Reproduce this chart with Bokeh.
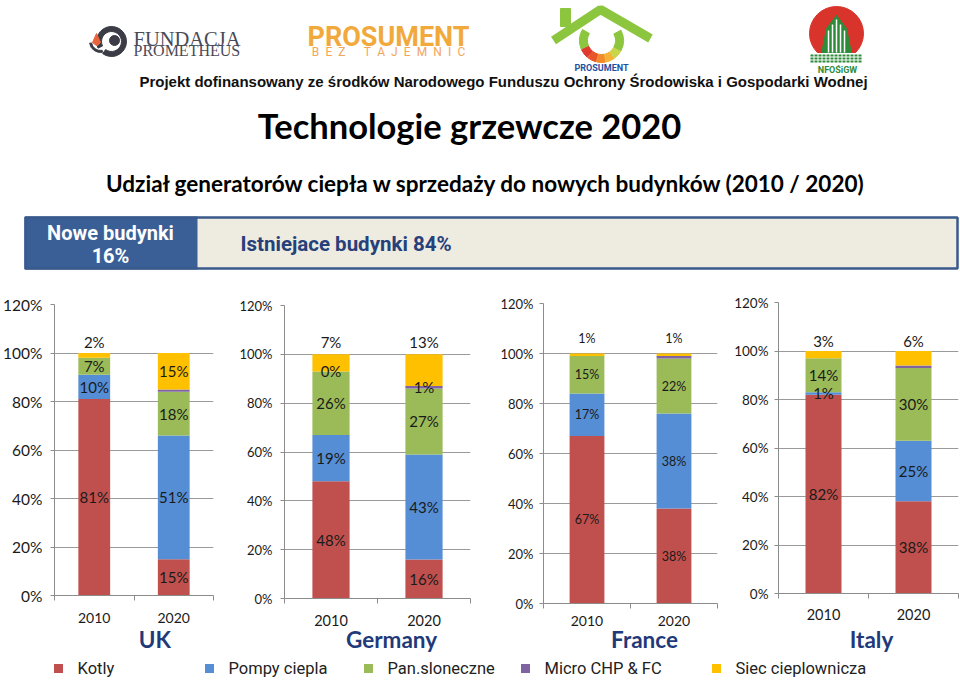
from bokeh.plotting import figure
from bokeh.layouts import column, row
from bokeh.models import Range1d, FixedTicker, ColumnDataSource, LinearAxis, PrintfTickFormatter
from bokeh.core.properties import value
from bokeh.embed import file_html
from bokeh.resources import INLINE

# ---------------- data ----------------
countries = ["UK", "Germany", "France", "Italy"]
years = ["2010", "2020"]
series = ["Kotly", "Pompy ciepla", "Pan.sloneczne", "Micro CHP & FC", "Siec cieplownicza"]
colors = ["#c0504d", "#558ed5", "#9bbb59", "#8064a2", "#ffc000"]

# values per country: [2010, 2020]
kotly = [[81, 15], [48, 16], [67, 38], [82, 38]]
pompy = [[10, 51], [19, 43], [17, 38], [1, 25]]
pan_slon = [[7, 18], [26, 27], [15, 22], [14, 30]]
micro_chp = [[0, 1], [0, 1], [0, 1], [0, 1]]
siec = [[2, 15], [7, 13], [1, 1], [3, 6]]
series_values = [kotly, pompy, pan_slon, micro_chp, siec]

y_ticks = [0, 20, 40, 60, 80, 100, 120]

# label display choices (style)
micro_labeled = [False, True, False, False]
siec_label_above = [[True, False], [True, True], [True, True], [True, True]]

title = "Technologie grzewcze 2020"
subtitle = "Udział generatorów ciepła w sprzedaży do nowych budynków (2010 / 2020)"
project_text = "Projekt dofinansowany ze środków Narodowego Funduszu Ochrony Środowiska i Gospodarki Wodnej"
banner_left = ["Nowe budynki", "16%"]
banner_right = "Istniejace budynki 84%"

# ---------------- layout / style ----------------
W = 960
HEADER_H = 288
CHART_H = 367
FOOTER_H = 26
FONT = "Lato"
NAVY = "#1f3a7a"
AXIS_C = "#8c8c8c"

chart_cfg = [
    dict(width=232, left=53, right=19, top=16, bottom=60, tick_fs="15.5px", y_stand=8, x_fs="14px",
         lab_fs="15px", x_stand=12, name_dx=21, name_stand=0, above=104.5),
    dict(width=258, left=52, right=20, top=17, bottom=56, tick_fs="13px", y_stand=8, x_fs="14.5px",
         lab_fs="15px", x_stand=11, name_dx=14, name_stand=-3, above=105),
    dict(width=238, left=53, right=11, top=15, bottom=52, tick_fs="13px", y_stand=6, x_fs="14px",
         lab_fs="12.5px", x_stand=7, name_dx=14, name_stand=-3, above=106),
    dict(width=232, left=50, right=2, top=14, bottom=61, tick_fs="13.5px", y_stand=6, x_fs="14.5px",
         lab_fs="15px", x_stand=10, name_dx=3, name_stand=3, above=104),
]


def text(p, x, y, t, size, color="#000000", font=FONT, style="normal", align="center", baseline="middle"):
    p.text(x=[x], y=[y], text=[t], text_font=value(font), text_font_size=size, text_color=color,
           text_font_style=style, text_align=align, text_baseline=baseline)


# ---------------- header ----------------
hdr = figure(width=W, height=HEADER_H, x_range=Range1d(0, W), y_range=Range1d(-HEADER_H, 0),
             output_backend="svg", toolbar_location=None, x_axis_type=None, y_axis_type=None,
             min_border=0)
hdr.grid.visible = False
hdr.outline_line_color = None

# logo 1: Fundacja Prometheus
hdr.annular_wedge(x=[111], y=[-41], inner_radius=10, outer_radius=15, start_angle=-2.2, end_angle=3.6,
                  color="#3c3c46")
hdr.circle(x=[114], y=[-40], radius=5, color="#3c3c46")
hdr.patch(x=[92, 96, 100, 97, 96], y=[-42, -33, -42, -45, -45], color="#e8643c")
hdr.annular_wedge(x=[100], y=[-41], inner_radius=9, outer_radius=11, start_angle=3.3, end_angle=4.9,
                  color="#3c3c46")
text(hdr, 133, -38, "FUNDACJA", "20.5px", "#4a4a58", font="Liberation Serif", align="left")
text(hdr, 133, -50, "PROMETHEUS", "16px", "#4a4a58", font="Liberation Serif", align="left")

# logo 2: Prosument bez tajemnic
SP = "\u2002"
text(hdr, 388, -36, "PROSUMENT", "27px", "#f2a93b", font="Roboto", style="bold")
text(hdr, 388, -51, SP.join("BEZ") + SP * 3 + SP.join("TAJEMNIC"), "12px", "#f3a55a", font="Roboto")

# logo 3: house
GREEN = "#8cc63f"
hdr.line(x=[553, 600, 650], y=[-40, -9, -38], line_width=9, color=GREEN)
hdr.quad(left=[560], right=[570], top=[-8], bottom=[-26], color=GREEN)
seg_cols = [GREEN, "#e03a2e", "#e8552b", "#f08a2a", "#f5b335", "#cbd54a", GREEN]
seg_a = [150, 205, 232, 257, 282, 307, 332, 390]
for i, c in enumerate(seg_cols):
    hdr.annular_wedge(x=[601], y=[-40], inner_radius=14, outer_radius=22,
                      start_angle=seg_a[i], end_angle=seg_a[i + 1] - 2, start_angle_units="deg",
                      end_angle_units="deg", color=c)
text(hdr, 601, -67, "PROSUMENT", "9px", "#1e4fa0", font="Roboto", style="bold")

# logo 4: NFOSiGW
hdr.circle(x=[836], y=[-33], radius=27, color="#d9342b")
hdr.patch(x=[821, 826, 836, 846, 851], y=[-53, -28, -15, -28, -53], color="#2e8b3a")
hdr.multi_line(xs=[[828, 828], [832, 832], [836, 836], [840, 840], [844, 844]],
               ys=[[-52, -30], [-52, -24], [-52, -19], [-52, -24], [-52, -30]], color="white", line_width=1.5)
hdr.quad(left=[806], right=[866], top=[-53], bottom=[-63], color="white")
hdr.multi_line(xs=[[810, 862]] * 3, ys=[[-55, -55], [-58, -58], [-61, -61]], color="#2e8b3a",
               line_width=2, line_dash="3 1")
text(hdr, 837, -69, "NFOŚiGW", "9px", "#2e8b3a", font="Roboto", style="bold")

text(hdr, 503, -81, project_text, "15px", "#111111", font="Liberation Sans", style="bold")

# titles
text(hdr, 469, -125, title, "34.5px", "#000000", style="bold")
text(hdr, 486, -183, subtitle, "22.5px", "#000000", style="bold")

# banner
hdr.quad(left=[25], right=[957], top=[-217], bottom=[-268], fill_color="#eeebe1", line_color=None)
hdr.quad(left=[24], right=[197], top=[-216], bottom=[-269], fill_color="#3a5e96", line_color=None)
hdr.quad(left=[25], right=[957], top=[-217], bottom=[-268], fill_color=None, line_color="#3a5a8c",
         line_width=2.5)
text(hdr, 110, -232, banner_left[0], "20px", "#ffffff", font="Roboto", style="bold")
text(hdr, 110, -255, banner_left[1], "20px", "#ffffff", font="Roboto", style="bold")
text(hdr, 240, -243, banner_right, "20.5px", "#26407a", font="Roboto", style="bold", align="left")


# ---------------- charts ----------------
def make_chart(ci):
    cfg = chart_cfg[ci]
    xs = [i + 0.5 for i in range(len(years))]
    data = {"x": xs}
    for s, arr in zip(series, series_values):
        data[s] = arr[ci]
    src = ColumnDataSource(data)

    p = figure(width=cfg["width"], height=CHART_H, x_range=Range1d(0, len(years)), y_range=Range1d(0, 120),
               output_backend="svg", toolbar_location=None,
               min_border_left=cfg["left"], min_border_right=cfg["right"],
               min_border_top=cfg["top"], min_border_bottom=cfg["bottom"])
    p.outline_line_color = None
    p.background_fill_color = "white"
    p.border_fill_color = "white"

    p.vbar_stack(series, x="x", width=0.4, fill_color=colors, line_color=None, source=src)

    # value labels
    lx, ly, lt = [], [], []
    for j in range(len(years)):
        base = 0
        for k, arr in enumerate(series_values):
            v = arr[ci][j]
            center = base + v / 2
            base += v
            if k == 3 and not micro_labeled[ci]:
                continue
            y = center
            if k == 4 and siec_label_above[ci][j]:
                y = cfg["above"]
            lx.append(xs[j])
            ly.append(y)
            lt.append(f"{v}%")
    p.text(x=lx, y=ly, text=lt, text_font=value(FONT), text_font_size=cfg["lab_fs"], text_color="#1a1a1a",
           text_align="center", text_baseline="middle")

    # year axis
    xa = p.xaxis[0]
    xa.ticker = FixedTicker(ticks=xs, minor_ticks=[float(i) for i in range(len(years) + 1)])
    xa.major_label_overrides = {x: y for x, y in zip(xs, years)}
    xa.major_tick_line_color = None
    xa.major_tick_out = 0
    xa.minor_tick_line_color = AXIS_C
    xa.minor_tick_out = 5
    xa.minor_tick_in = 0
    xa.axis_line_color = AXIS_C
    xa.major_label_text_font = FONT
    xa.major_label_text_font_size = cfg["x_fs"]
    xa.major_label_text_color = "#1a1a1a"
    xa.major_label_standoff = cfg["x_stand"]

    # country name axis
    frame_w = cfg["width"] - cfg["left"] - cfg["right"]
    cx = round(len(years) / 2 + cfg["name_dx"] * len(years) / frame_w, 4)
    na = LinearAxis(ticker=FixedTicker(ticks=[cx]), major_label_overrides={cx: countries[ci]})
    na.axis_line_color = None
    na.major_tick_line_color = None
    na.minor_tick_line_color = None
    na.major_tick_out = 0
    na.major_label_standoff = cfg["name_stand"]
    na.major_label_text_font = FONT
    na.major_label_text_font_size = "22.5px"
    na.major_label_text_font_style = "bold"
    na.major_label_text_color = NAVY
    p.add_layout(na, "below")

    ya = p.yaxis[0]
    ya.ticker = FixedTicker(ticks=y_ticks)
    ya.formatter = PrintfTickFormatter(format="%d%%")
    ya.major_tick_out = 4
    ya.major_tick_in = 0
    ya.major_tick_line_color = AXIS_C
    ya.minor_tick_line_color = None
    ya.axis_line_color = AXIS_C
    ya.major_label_text_font = FONT
    ya.major_label_text_font_size = cfg["tick_fs"]
    ya.major_label_text_color = "#1a1a1a"
    ya.major_label_standoff = cfg["y_stand"]

    p.xgrid.visible = False
    p.ygrid.ticker = FixedTicker(ticks=y_ticks)
    p.ygrid.grid_line_color = "#9a9a9a"
    return p


charts = [make_chart(i) for i in range(len(countries))]

# ---------------- footer legend ----------------
ftr = figure(width=W, height=FOOTER_H, x_range=Range1d(0, W), y_range=Range1d(-681, -655),
             output_backend="svg", toolbar_location=None, x_axis_type=None, y_axis_type=None, min_border=0)
ftr.grid.visible = False
ftr.outline_line_color = None
legend_x = [58, 209, 368, 525, 716]
ftr.rect(x=legend_x, y=[-668] * 5, width=9, height=9, fill_color=colors, line_color=None)
ftr.text(x=[x + 19 for x in legend_x], y=[-668] * 5, text=series, text_font=value("Roboto"),
         text_font_size="16.5px", text_color="#222222", text_align="left", text_baseline="middle")

layout = column(hdr, row(*[column(c) for c in charts], spacing=0), ftr, spacing=0)

open("out.html", "w").write(file_html(layout, INLINE))
